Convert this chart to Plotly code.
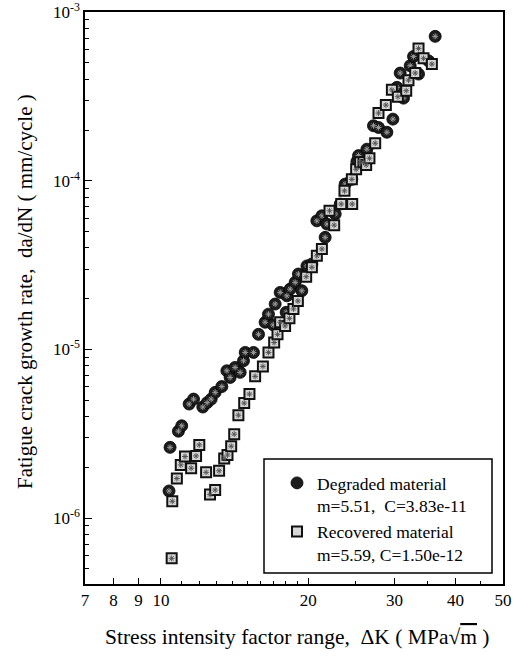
import plotly.graph_objects as go

# Degraded material (circles)
deg_dk = [10.39, 10.44, 10.86, 11.03, 11.42, 11.66, 12.18, 12.43, 12.67, 12.91,
          13.32, 13.64, 13.85, 14.18, 14.52, 14.75, 14.87, 15.46, 15.83, 16.33,
          16.59, 16.96, 17.12, 17.53, 18.03, 18.09, 18.37, 18.81, 19.10, 19.41,
          19.88, 20.35, 20.83, 21.33, 21.66, 21.84, 22.71, 23.25, 23.80, 24.56,
          25.15, 25.34, 26.36, 27.19, 27.84, 28.96, 29.79, 30.36, 30.83, 31.31,
          32.32, 32.83, 33.61, 35.23, 36.35]
deg_rate = [1.45e-6, 2.63e-6, 3.28e-6, 3.53e-6, 4.75e-6, 5.08e-6, 4.56e-6, 4.84e-6, 5.08e-6, 5.57e-6,
            6.03e-6, 7.48e-6, 6.83e-6, 7.83e-6, 7.32e-6, 8.57e-6, 9.61e-6, 9.61e-6, 1.23e-5, 1.45e-5,
            1.62e-5, 1.40e-5, 1.86e-5, 2.18e-5, 1.66e-5, 2.08e-5, 2.28e-5, 2.50e-5, 2.80e-5, 2.23e-5,
            3.13e-5, 3.21e-5, 5.79e-5, 6.20e-5, 4.62e-5, 5.54e-5, 6.35e-5, 7.28e-5, 9.56e-5, 1.02e-4,
            1.30e-4, 1.41e-4, 1.54e-4, 2.12e-4, 2.07e-4, 1.94e-4, 2.32e-4, 3.58e-4, 4.35e-4, 3.09e-4,
            4.81e-4, 5.46e-4, 4.29e-4, 5.14e-4, 7.18e-4]

# Recovered material (squares)
rec_dk = [10.52, 10.55, 10.78, 10.98, 11.20, 11.53, 11.80, 11.98, 12.37, 12.60,
          12.91, 13.15, 13.47, 13.68, 13.92, 14.12, 14.40, 14.80, 15.17, 15.58,
          16.16, 16.59, 17.04, 17.31, 17.53, 17.94, 18.31, 18.66, 19.05, 19.81,
          20.35, 20.83, 21.33, 22.11, 22.60, 23.36, 23.72, 24.60, 24.56, 25.06,
          25.54, 25.94, 26.27, 26.68, 27.41, 27.84, 28.82, 29.65, 30.50, 31.72,
          32.06, 33.09, 33.61, 34.41, 35.79]
rec_rate = [5.78e-7, 1.26e-6, 1.72e-6, 2.07e-6, 2.32e-6, 1.98e-6, 2.34e-6, 2.72e-6, 1.87e-6, 1.38e-6,
            1.47e-6, 1.91e-6, 2.26e-6, 2.37e-6, 2.67e-6, 3.15e-6, 4.08e-6, 4.81e-6, 5.44e-6, 6.93e-6,
            7.94e-6, 9.61e-6, 1.10e-5, 1.23e-5, 1.45e-5, 1.38e-5, 1.53e-5, 1.74e-5, 1.94e-5, 2.70e-5,
            3.07e-5, 3.59e-5, 3.94e-5, 6.64e-5, 5.46e-5, 7.28e-5, 8.72e-5, 7.28e-5, 1.02e-4, 1.17e-4,
            1.29e-4, 1.29e-4, 1.24e-4, 1.36e-4, 1.67e-4, 2.52e-4, 2.81e-4, 3.46e-4, 3.15e-4, 3.42e-4,
            3.95e-4, 4.35e-4, 6.09e-4, 5.32e-4, 4.92e-4]

x_ticks = [7, 8, 9, 10, 20, 30, 40, 50]
x_ticktext = ["7", "8", "9", "10", "20", "30", "40", "50"]
x_minor = [11, 12, 13, 14, 15, 16, 17, 18, 19, 25, 35, 45]
y_ticks = [1e-6, 1e-5, 1e-4, 1e-3]
y_ticktext = ["10<sup>-6</sup>", "10<sup>-5</sup>", "10<sup>-4</sup>", "10<sup>-3</sup>"]
y_minor = [5e-7, 6e-7, 7e-7, 8e-7, 9e-7,
           2e-6, 3e-6, 4e-6, 5e-6, 6e-6, 7e-6, 8e-6, 9e-6,
           2e-5, 3e-5, 4e-5, 5e-5, 6e-5, 7e-5, 8e-5, 9e-5,
           2e-4, 3e-4, 4e-4, 5e-4, 6e-4, 7e-4, 8e-4, 9e-4]

deg_name = "Degraded material<br>m=5.51,  C=3.83e-11"
rec_name = "Recovered material<br>m=5.59, C=1.50e-12"

FONT = "Liberation Serif, Times New Roman, serif"

fig = go.Figure()
fig.add_trace(go.Scatter(
    x=deg_dk, y=deg_rate, mode="markers", name=deg_name,
    marker=dict(symbol="circle", size=12, color="#1c1c1c",
                line=dict(color="#000000", width=0.8))))
fig.add_trace(go.Scatter(
    x=deg_dk, y=deg_rate, mode="markers", showlegend=False, hoverinfo="skip",
    marker=dict(symbol="asterisk-open", size=5, color="#9a9a9a",
                line=dict(color="#9a9a9a", width=1))))
fig.add_trace(go.Scatter(
    x=rec_dk, y=rec_rate, mode="markers", name=rec_name,
    marker=dict(symbol="square", size=10, color="#d8d8d8",
                line=dict(color="#111111", width=2))))
fig.add_trace(go.Scatter(
    x=rec_dk, y=rec_rate, mode="markers", showlegend=False, hoverinfo="skip",
    marker=dict(symbol="asterisk-open", size=5, color="#555555",
                line=dict(color="#555555", width=1))))

axis_common = dict(
    showgrid=False, zeroline=False, showline=True, linecolor="black", linewidth=1.5,
    mirror=True, ticks="inside", tickcolor="black", tickwidth=1.2, automargin=False,
    ticklabeloverflow="allow",
    tickfont=dict(family=FONT, size=17, color="black"),
)

fig.update_xaxes(type="log", range=[0.8449, 1.6991], tickmode="array",
                 tickvals=x_ticks, ticktext=x_ticktext, ticklen=6,
                 minor=dict(ticks="inside", ticklen=3, tickvals=x_minor, tickcolor="black", showgrid=False),
                 **axis_common)
fig.update_yaxes(type="log", range=[-6.39, -2.9995], tickmode="array",
                 tickvals=y_ticks, ticktext=y_ticktext, ticklen=7,
                 minor=dict(ticks="inside", ticklen=4, tickvals=y_minor, tickcolor="black", showgrid=False),
                 **axis_common)

# legend frame
fig.add_shape(type="rect", xref="paper", yref="paper",
              x0=(264 - 85) / 418, x1=(492 - 85) / 418,
              y0=(584 - 573) / 572, y1=(584 - 459) / 572,
              line=dict(color="black", width=1.5), fillcolor="white", layer="below")

fig.add_annotation(text="Fatigue crack growth rate,  da/dN ( mm/cycle )",
                   xref="paper", yref="paper", x=(25 - 85) / 418, y=(584 - 292) / 572,
                   textangle=-90, showarrow=False, xanchor="center", yanchor="middle",
                   font=dict(family=FONT, size=21, color="black"))
fig.add_annotation(text="Stress intensity factor range,  ΔK ( MPa√<span style='text-decoration:overline'>m</span> )",
                   xref="paper", yref="paper", x=(297 - 85) / 418, y=(584 - 637) / 572,
                   showarrow=False, xanchor="center", yanchor="middle",
                   font=dict(family=FONT, size=21.5, color="black"))

fig.update_layout(
    width=521, height=656,
    margin=dict(l=85, r=18, t=12, b=72, autoexpand=False),
    paper_bgcolor="white", plot_bgcolor="white",
    font=dict(family=FONT, size=16, color="black"),
    legend=dict(x=(277 - 85) / 418, y=(584 - 465) / 572, xanchor="left", yanchor="top",
                bgcolor="rgba(0,0,0,0)", borderwidth=0, valign="top",
                font=dict(family=FONT, size=17.5, color="black"), tracegroupgap=0),
)

# remove the default 8px page margin so the figure fills the window exactly
fig.write_html("out.html", config={"displayModeBar": False},
               post_script="document.body.style.margin='0';")
